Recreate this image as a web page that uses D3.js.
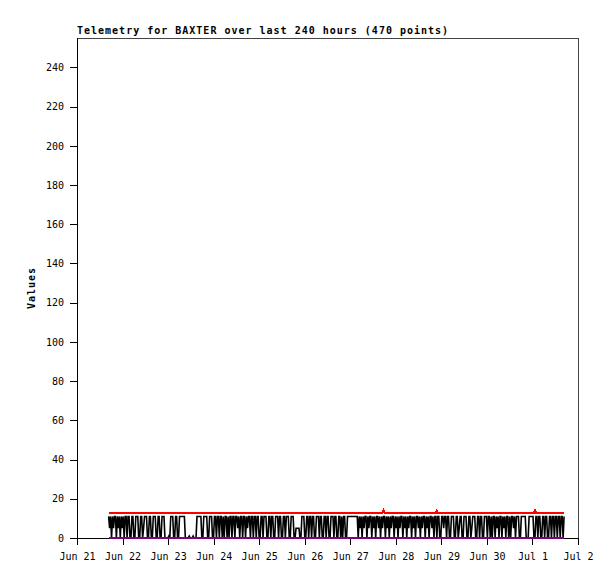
<!DOCTYPE html>
<html><head><meta charset="utf-8">
<script src="https://cdn.jsdelivr.net/npm/d3@7"></script>
<style>body{margin:0;background:#fff}svg{display:block}</style>
</head><body>
<script>
const titleText = "Telemetry for BAXTER over last 240 hours (470 points)";
const yLabel = "Values";
const yTicks = [0,20,40,60,80,100,120,140,160,180,200,220,240];
const xTickLabels = ["Jun 21","Jun 22","Jun 23","Jun 24","Jun 25","Jun 26","Jun 27","Jun 28","Jun 29","Jun 30","Jul 1","Jul 2"];
const startTime = new Date(2023,5,21,16,40);
const totalHours = 240;
// black series (470 samples)
const values = [
11,5,11,0,11,5,11,11,0,11,
5,11,0,11,5,11,0,11,11,0,
11,11,0,0,11,11,0,0,11,11,
11,0,0,11,11,0,5,11,11,11,
0,0,11,11,0,0,11,11,11,0,
0,11,11,0,0,11,11,11,0,0,
0,0,1,0,11,11,11,0,0,11,
11,0,0,11,11,11,11,11,11,0,
0,0,0,1,0,0,0,1,0,0,
0,11,11,11,11,11,0,0,11,11,
11,11,0,0,11,11,11,0,0,11,
11,0,11,11,0,11,11,0,11,0,
11,11,0,11,0,11,11,0,11,11,
0,11,11,5,11,0,11,11,0,11,
11,0,11,5,11,11,0,11,11,0,
11,11,0,11,11,0,0,11,11,0,
11,11,11,0,0,11,11,0,11,11,
0,0,11,11,11,0,11,11,0,0,
11,11,0,11,11,11,0,0,11,11,
11,0,0,5,5,5,5,0,0,11,
11,11,0,0,11,11,0,11,11,0,
11,11,0,0,11,11,11,0,11,11,
0,0,11,11,0,11,11,0,0,11,
11,11,0,11,11,0,0,11,11,0,
11,0,11,11,0,0,11,11,11,11,
11,11,11,11,11,11,11,0,11,5,
11,0,11,5,11,11,0,11,5,11,
11,0,11,5,11,0,11,11,5,11,
0,11,5,11,11,0,11,5,11,0,
11,5,11,11,0,11,5,11,0,11,
5,11,11,0,11,5,11,0,11,5,
11,11,0,11,5,11,0,11,11,5,
11,0,11,5,11,11,0,11,5,11,
0,11,11,5,11,0,11,11,0,11,
11,0,0,11,11,5,11,11,0,11,
11,0,0,11,11,11,0,0,11,11,
0,5,11,11,0,0,11,11,11,0,
0,11,11,0,5,11,11,11,0,0,
11,11,0,11,11,0,0,11,11,11,
0,11,11,0,11,0,11,11,0,11,
5,11,0,11,11,0,11,5,11,0,
11,11,0,11,0,11,11,5,11,0,
11,11,11,0,0,11,11,11,11,11,
0,0,0,11,11,11,11,11,0,0,
11,11,0,11,11,0,0,11,11,0,
11,11,0,0,11,11,0,11,11,0,
11,11,0,11,11,0,11,11,0,11
];
// max series (red) breakpoints by sample index
const maxIdx = [0,282,283,284,337,338,339,438,439,440,469];
const maxVal = [13,13,14,13,13,14,13,13,14,13,13];
// min series (purple)
const minIdx = [0,469];
const minVal = [0,0];

const W=615,H=579, L=77,T=38,R=578,B=538;
const svg=d3.select("body").append("svg").attr("width",W).attr("height",H);
const x=d3.scaleTime().domain([new Date(2023,5,21),new Date(2023,6,2)]).range([L,R]);
const y=d3.scaleLinear().domain([0,255]).range([B,T]);
const n=values.length;
const tAt=i=>new Date(startTime.getTime()+i*totalHours*3600000/(n-1));
const line=d3.line().x(d=>x(tAt(d[0]))).y(d=>y(d[1]));

// frame
svg.append("path").attr("d",`M${L},${T}H${R}V${B}`).attr("fill","none").attr("stroke","#444").attr("shape-rendering","crispEdges");
const font="'DejaVu Sans Mono', monospace";
const yAxis=svg.append("g").attr("transform",`translate(${L},0)`)
  .call(d3.axisLeft(y).tickValues(yTicks).tickSize(7).tickPadding(6).tickSizeOuter(0));
yAxis.select(".domain").remove();
svg.append("line").attr("x1",L).attr("x2",L).attr("y1",T).attr("y2",B+7).attr("stroke","#000").attr("shape-rendering","crispEdges");
yAxis.selectAll("text").attr("font-family",font).attr("font-size",10).attr("fill","#000");
yAxis.selectAll("line").attr("stroke","#000").attr("shape-rendering","crispEdges");
const days=d3.timeDay.range(new Date(2023,5,21),new Date(2023,6,3));
const xAxis=svg.append("g").attr("transform",`translate(0,${B})`)
  .call(d3.axisBottom(x).tickValues(days).tickFormat((d,i)=>xTickLabels[i]).tickSize(7).tickPadding(8).tickSizeOuter(0));
xAxis.select(".domain").remove();
svg.append("line").attr("x1",L).attr("x2",R).attr("y1",B).attr("y2",B).attr("stroke","#000").attr("shape-rendering","crispEdges");
xAxis.selectAll("text").attr("font-family",font).attr("font-size",10).attr("fill","#000");
xAxis.selectAll("line").attr("stroke","#000").attr("shape-rendering","crispEdges");

// data
svg.append("path").datum(values.map((v,i)=>[i,v])).attr("d",line)
  .attr("fill","none").attr("stroke","#000").attr("stroke-width",1.6).attr("stroke-linejoin","miter");
svg.append("path").datum(maxIdx.map((k,i)=>[k,maxVal[i]])).attr("d",line)
  .attr("fill","none").attr("stroke","#ff0000").attr("stroke-width",2).attr("shape-rendering","crispEdges");
svg.append("path").datum(minIdx.map((k,i)=>[k,minVal[i]])).attr("d",line)
  .attr("fill","none").attr("stroke","#800080").attr("stroke-width",2).attr("shape-rendering","crispEdges");

svg.append("text").attr("x",L).attr("y",34).text(titleText)
  .attr("font-family",font).attr("font-size",10).attr("font-weight","bold").attr("letter-spacing",1);
svg.append("text").attr("transform","translate(35,288) rotate(-90)").attr("text-anchor","middle")
  .text(yLabel).attr("font-family",font).attr("font-size",10).attr("font-weight","bold").attr("letter-spacing",1);
</script>
</body></html>
